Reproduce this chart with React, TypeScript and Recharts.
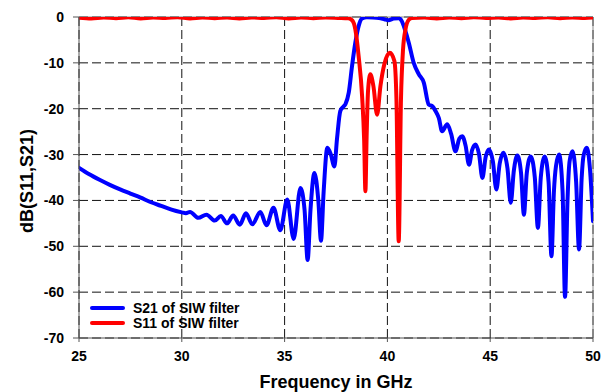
import React from 'react';
import { LineChart, Line, XAxis, YAxis, CartesianGrid, ReferenceLine, Legend, Label } from 'recharts';

const freqTicks = [25, 30, 35, 40, 45, 50];
const dbTicks = [0, -10, -20, -30, -40, -50, -60, -70];

const s21Freq = [
  25, 25.5, 26, 26.5, 27, 27.5, 28, 28.5, 29, 29.5, 30, 30.2, 30.4, 30.8, 31.2, 31.6, 31.9, 32.2, 32.5, 32.82,
  33.12, 33.43, 33.82, 34.12, 34.46, 34.79, 35.13, 35.44, 35.77, 35.97, 36.12, 36.26, 36.45, 36.64, 36.77, 36.9,
  37.08, 37.25, 37.42, 37.55, 37.71, 37.85, 37.96, 38.12, 38.28, 38.44, 38.6, 38.77, 39.0, 39.3, 39.6, 39.85,
  40.05, 40.3, 40.55, 40.7, 40.85, 41.04, 41.28, 41.53, 41.77, 42.01, 42.2, 42.34, 42.5, 42.66, 42.91, 43.1,
  43.31, 43.5, 43.64, 43.8, 43.97, 44.12, 44.29, 44.46, 44.62, 44.78, 44.94, 45.13, 45.3, 45.46, 45.64, 45.84,
  46.0, 46.15, 46.32, 46.5, 46.64, 46.78, 46.97, 47.17, 47.32, 47.46, 47.65, 47.84, 47.98, 48.1, 48.2, 48.35,
  48.52, 48.64, 48.76, 48.86, 49.0, 49.18, 49.32, 49.45, 49.55, 49.7, 49.85, 50.0,
];
const s21Db = [
  -32.9, -34.3, -35.5, -36.6, -37.6, -38.5, -39.4, -40.4, -41.2, -42.0, -42.6, -42.8, -42.5, -43.8, -43.1, -44.4, -43.4, -45.0, -43.3, -45.3,
  -42.8, -45.2, -42.5, -45.4, -41.6, -46.5, -39.8, -48.4, -37.3, -42, -53.0, -42, -34.0, -40, -48.8, -38,
  -28.5, -30.0, -32.6, -26.5, -20.5, -19.6, -19.0, -16.5, -10.7, -5.6, -2.0, -0.3, -0.05, -0.1, -0.25, -0.5,
  -0.7, -0.35, -0.25, -0.9, -2.7, -5.6, -10.0, -12.5, -14.3, -19.1, -19.5, -20.5, -22.0, -24.9, -23.4, -25.5,
  -29.3, -26.5, -26.0, -28, -32.2, -29, -27.8, -30, -35.1, -30.5, -28.9, -31.5, -37.6, -32, -29.6, -33,
  -40.5, -33.5, -30.2, -34, -43.1, -34, -30.4, -35, -46.0, -35, -30.4, -36, -52.2, -38, -32.5, -30.0,
  -38, -61.0, -40, -31.5, -29.3, -36, -50.7, -35, -30, -28.5, -33, -44.5,
];

const s11Freq = [
  25, 25.6, 26.2, 26.8, 27.4, 28, 28.6, 29.2, 29.8, 30.4, 31, 31.6, 32.2, 32.8, 33.4, 34, 34.6, 35.2, 35.8, 36.4,
  37, 37.6, 38.1, 38.3, 38.44, 38.6, 38.77, 38.87, 38.93, 38.99, 39.06, 39.17, 39.32, 39.5, 39.66, 39.85, 40.12,
  40.34, 40.44, 40.55, 40.66, 40.76, 40.88, 41.04, 41.2, 41.8, 42.4, 43, 43.6, 44.2, 44.8, 45.4, 46, 46.6, 47.2,
  47.8, 48.4, 49, 49.6, 50,
];
const s11Db = [
  -0.15, -0.3, -0.1, -0.25, -0.05, -0.3, -0.1, -0.2, -0.05, -0.3, -0.1, -0.25, -0.1, -0.3, -0.1, -0.2, -0.05, -0.3, -0.1, -0.25,
  -0.1, -0.2, -0.3, -0.8, -2.7, -8.5, -17.3, -27, -38.0, -26, -16, -12.5, -15.1, -21.3, -15.1, -10.3, -7.8,
  -9.6, -18, -48.9, -18, -7.1, -2.7, -0.6, -0.2, -0.1, -0.3, -0.1, -0.25, -0.05, -0.2, -0.1, -0.3, -0.1, -0.2,
  -0.05, -0.25, -0.1, -0.2, -0.1,
];

const seriesNames = ['S21 of SIW filter', 'S11 of SIW filter'];
const seriesColors = ['#0000ff', '#ff0000'];

const s21Data = s21Freq.map((f, i) => ({ f, db: s21Db[i] }));
const s11Data = s11Freq.map((f, i) => ({ f, db: s11Db[i] }));

const FONT = '"Liberation Sans", Arial, sans-serif';
const tickStyle = { fill: '#000', fontSize: 14, fontWeight: 'bold', fontFamily: FONT };

const LegendContent = (props: any) => {
  const payload = [...(props.payload || [])].sort(
    (a: any, b: any) => seriesNames.indexOf(a.value) - seriesNames.indexOf(b.value)
  );
  return (
    <div style={{ fontFamily: FONT, fontWeight: 'bold', fontSize: 14, color: '#000' }}>
      {payload.map((p: any) => (
        <div key={p.value} style={{ display: 'flex', alignItems: 'center', height: 15, whiteSpace: 'nowrap' }}>
          <span style={{ display: 'inline-block', width: 35, height: 4, borderRadius: 2, background: p.color, marginRight: 8 }} />
          <span>{p.value}</span>
        </div>
      ))}
    </div>
  );
};

export default function App() {
  return (
    <div style={{ position: 'absolute', left: 0, top: 0, background: '#fff' }}>
      <LineChart width={609} height={392} margin={{ top: 17, right: 16, bottom: 0, left: 0 }}>
        <CartesianGrid stroke="#111" strokeDasharray="9 4" strokeWidth={1} />
        <XAxis
          type="number"
          dataKey="f"
          domain={[25, 50]}
          ticks={freqTicks}
          allowDataOverflow
          height={54}
          tickSize={4}
          tickMargin={9}
          tick={tickStyle}
          stroke="#555"
          label={
            <Label
              content={() => (
                <text x={336} y={388} textAnchor="middle" fontFamily={FONT} fontWeight="bold" fontSize={18} fill="#000">
                  Frequency in GHz
                </text>
              )}
            />
          }
        />
        <YAxis
          type="number"
          domain={[-70, 0]}
          ticks={dbTicks}
          allowDataOverflow
          width={79}
          tickSize={6}
          tickMargin={9}
          tick={tickStyle}
          stroke="#555"
          label={
            <Label
              content={() => (
                <text
                  x={27}
                  y={181}
                  transform="rotate(-90 27 181)"
                  textAnchor="middle"
                  dominantBaseline="central"
                  fontFamily={FONT}
                  fontWeight="bold"
                  fontSize={18}
                  fill="#000"
                >
                  dB(S11,S21)
                </text>
              )}
            />
          }
        />
        <ReferenceLine y={0} stroke="#888" strokeWidth={1} />
        <ReferenceLine x={50} stroke="#888" strokeWidth={1} />
        <Line
          data={s21Data}
          dataKey="db"
          name={seriesNames[0]}
          type="monotone"
          stroke={seriesColors[0]}
          strokeWidth={4}
          strokeLinecap="round"
          strokeLinejoin="round"
          dot={false}
          activeDot={false}
          isAnimationActive={false}
        />
        <Line
          data={s11Data}
          dataKey="db"
          name={seriesNames[1]}
          type="monotone"
          stroke={seriesColors[1]}
          strokeWidth={4}
          strokeLinecap="round"
          strokeLinejoin="round"
          dot={false}
          activeDot={false}
          isAnimationActive={false}
        />
        <Legend
          layout="vertical"
          align="center"
          verticalAlign="middle"
          content={LegendContent}
          wrapperStyle={{ left: 90, top: 300.8, width: 'auto', height: 'auto' }}
        />
      </LineChart>
    </div>
  );
}
